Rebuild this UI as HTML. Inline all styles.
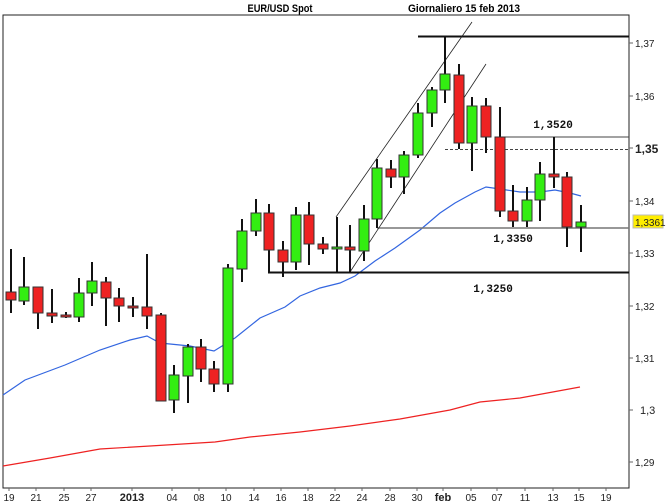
<!DOCTYPE html>
<html><head><meta charset="utf-8"><style>
body{margin:0;background:#fff;}
svg{display:block;font-family:"Liberation Sans",sans-serif;}
</style></head><body>
<svg id="s" width="672" height="504" viewBox="0 0 672 504" xmlns="http://www.w3.org/2000/svg">
<rect width="672" height="504" fill="#fff"/>
<text x="280" y="12" font-size="11" font-weight="bold" text-anchor="middle" textLength="65" lengthAdjust="spacingAndGlyphs">EUR/USD Spot</text>
<text x="464" y="12" font-size="11" font-weight="bold" text-anchor="middle" textLength="112" lengthAdjust="spacingAndGlyphs">Giornaliero  15 feb 2013</text>
<rect x="3" y="15" width="626" height="473" fill="none" stroke="#222" stroke-width="1"/>
<polyline fill="none" stroke="#e22" stroke-width="1.2" points="3,466 50,458 100,449 150,446 215,442 250,437 300,432 350,426 400,419 450,410 480,402 520,398 580,387"/>
<polyline fill="none" stroke="#3366e0" stroke-width="1.2" points="3,395 25,380 65,365 100,350 130,340 147,336 160,343 190,346 214,351 235,338 260,318 285,307 300,296 320,288 340,283 355,276 375,261 395,248 420,230 440,213 455,203 475,192 486,187 500,189 520,192 540,192 555,190 570,193 581,196"/>
<line x1="418" y1="36.5" x2="629" y2="36.5" stroke="#111" stroke-width="2"/>
<line x1="505" y1="137" x2="629" y2="137" stroke="#444" stroke-width="1"/>
<line x1="445" y1="149.5" x2="629" y2="149.5" stroke="#444" stroke-width="1" stroke-dasharray="3,2"/>
<line x1="377" y1="228" x2="629" y2="228" stroke="#777" stroke-width="1.5"/>
<line x1="268" y1="272.5" x2="629" y2="272.5" stroke="#111" stroke-width="2"/>
<line x1="336" y1="217" x2="472" y2="22" stroke="#222" stroke-width="0.8"/>
<line x1="350" y1="272" x2="486" y2="64" stroke="#222" stroke-width="0.8"/>
<g font-family="Liberation Mono,monospace" font-size="11" font-weight="bold" fill="#111">
<text x="553" y="128" text-anchor="middle">1,3520</text>
<text x="513" y="242" text-anchor="middle">1,3350</text>
<text x="493" y="292" text-anchor="middle">1,3250</text>
</g>
<g id="c"></g>
<g font-size="10" fill="#222">
<g stroke="#666"><line x1="629" y1="43" x2="633" y2="43"/><line x1="629" y1="96" x2="633" y2="96"/><line x1="629" y1="148" x2="633" y2="148"/><line x1="629" y1="201" x2="633" y2="201"/><line x1="629" y1="253" x2="633" y2="253"/><line x1="629" y1="306" x2="633" y2="306"/><line x1="629" y1="358" x2="633" y2="358"/><line x1="629" y1="410" x2="633" y2="410"/><line x1="629" y1="462" x2="633" y2="462"/></g>
<text x="635" y="47">1,37</text><text x="635" y="100">1,36</text><text x="635" y="153" font-weight="bold" font-size="12">1,35</text><text x="635" y="205">1,34</text><text x="635" y="257">1,33</text><text x="635" y="310">1,32</text><text x="635" y="362">1,31</text><text x="640" y="414" font-size="11">1,3</text><text x="635" y="466">1,29</text>
<rect x="633" y="215" width="30" height="13" fill="#ffee00" stroke="#bbb"/>
<text x="635" y="226">1,3361</text>
</g>
<g id="xl" font-size="10" fill="#222" text-anchor="middle"></g>
</svg>
<script>
var C=[[11,292,300,249,313,0],[24,287,301,257,305,1],[38,287,313,287,329,0],[52,313,316,289,323,0],[66,315,317,312,318,0],[79,293,317,278,322,1],[92,281,293,262,306,1],[106,282,298,277,326,0],[119,298,306,288,322,0],[133,306,308,297,317,0],[147,307,316,254,329,0],[161,315,401,313,401,0],[174,375,400,365,413,1],[188,347,376,344,403,1],[201,347,369,339,382,0],[214,369,384,361,392,0],[228,268,384,264,392,1],[242,231,269,219,282,1],[256,213,231,199,236,1],[269,213,250,204,273,0],[283,250,262,241,277,0],[296,215,262,207,270,1],[309,215,244,202,265,0],[323,244,249,237,254,0],[337,247,249,217,272,1],[350,247,250,225,272,0],[364,219,251,205,261,1],[377,168,219,159,228,1],[391,169,177,160,188,0],[404,155,177,151,194,1],[418,113,155,103,158,1],[432,90,113,87,127,1],[445,74,90,37,103,1],[459,75,143,64,149,0],[472,106,143,97,171,1],[486,106,137,98,153,0],[500,137,211,107,217,0],[513,211,221,185,227,0],[527,200,221,187,227,1],[540,174,200,162,221,1],[554,174,177,137,188,0],[567,177,227,172,247,0],[581,222,227,205,252,1]];
var g=document.getElementById('c'),h='';
C.forEach(function(c){h+='<line x1="'+c[0]+'" y1="'+c[3]+'" x2="'+c[0]+'" y2="'+c[4]+'" stroke="#111" stroke-width="2"/>';
var bh=Math.max(c[2]-c[1],2);h+='<rect x="'+(c[0]-5)+'" y="'+c[1]+'" width="10" height="'+bh+'" fill="'+(c[5]?'#33ee11':'#ee2222')+'" stroke="#333" stroke-width="1"/>';});
g.innerHTML=h;
var L=[[9,'19'],[36,'21'],[64,'25'],[91,'27'],[132,'2013',1],[172,'04'],[199,'08'],[226,'10'],[254,'14'],[281,'16'],[308,'18'],[335,'22'],[362,'24'],[390,'28'],[417,'30'],[443,'feb',1],[471,'05'],[497,'07'],[525,'11'],[553,'13'],[579,'15'],[606,'19']];
var x='';L.forEach(function(l){x+='<line x1="'+l[0]+'" y1="488" x2="'+l[0]+'" y2="491" stroke="#666"/><text x="'+l[0]+'" y="501"'+(l[2]?' font-weight="bold" font-size="11"':'')+'>'+l[1]+'</text>';});
document.getElementById('xl').innerHTML=x;
</script>
</body></html>
